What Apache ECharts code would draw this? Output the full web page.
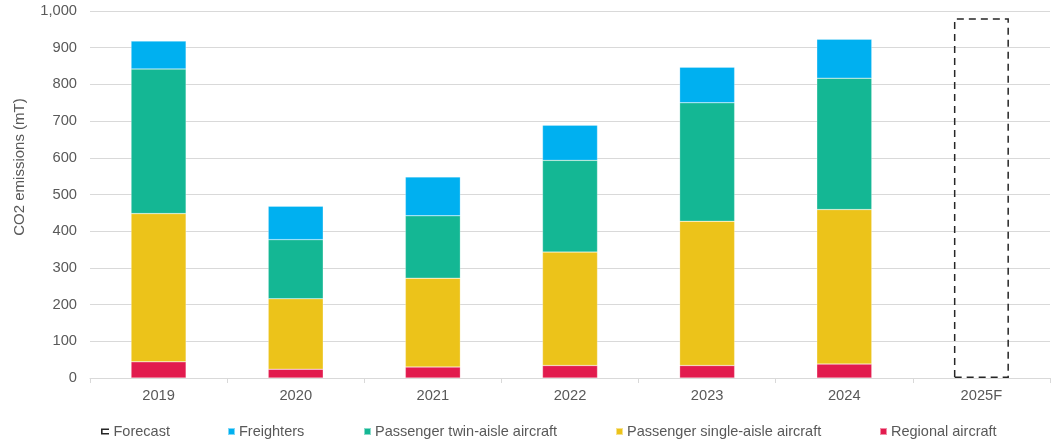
<!DOCTYPE html>
<html>
<head>
<meta charset="utf-8">
<script src="https://cdn.jsdelivr.net/npm/echarts@6/dist/echarts.min.js"></script>
<style>html,body{margin:0;padding:0;background:#fff;}#c{width:1052px;height:443px;}</style>
</head>
<body>
<div id="c"></div>
<script>
const categories = ['2019','2020','2021','2022','2023','2024','2025F'];
const regional = [44, 24, 30, 34, 34, 38, null];
const singleAisle = [404, 192, 242, 309, 393, 421, null];
const twinAisle = [394, 161, 170, 250, 323, 358, null];
const freighters = [76, 91, 106, 96, 97, 106, null];
const forecast = [null, null, null, null, null, null, 980];
const yTicks = [0,100,200,300,400,500,600,700,800,900,1000];

const fix = a => a.map(v => v == null ? '-' : v);
const txt = '#595959';
const font = 'Liberation Sans, Arial, sans-serif';

const chart = echarts.init(document.getElementById('c'));
function legendAt(left, name, extra) {
  return Object.assign({
    left: left, top: 424, orient: 'horizontal', padding: 0,
    icon: 'rect', itemWidth: 7, itemHeight: 7, itemGap: 0,
    textStyle: {color: txt, fontSize: 14.5, fontFamily: font, padding: [0,0,0,-1]},
    data: [name], selectedMode: false
  }, extra || {});
}
chart.setOption({
  animation: false,
  textStyle: {fontFamily: font},
  grid: {left: 90, right: 2, top: 11, bottom: 65},
  legend: [
    legendAt(101, {name: 'Forecast', icon: 'path://M0,0H8V1.6H1.6V4.4H8V6H0Z', itemStyle: {color: '#262626', borderWidth: 0}}, {itemWidth: 9, itemHeight: 6}),
    legendAt(227, 'Freighters'),
    legendAt(363, 'Passenger twin-aisle aircraft'),
    legendAt(615, 'Passenger single-aisle aircraft'),
    legendAt(879, 'Regional aircraft')
  ],
  graphic: [{
    type: 'text', x: 20, y: 167, rotation: Math.PI/2,
    style: {text: 'CO2 emissions (mT)', fill: txt, font: '15px ' + font, align: 'center', verticalAlign: 'middle'}
  }],
  xAxis: {
    type: 'category', data: categories,
    axisLine: {lineStyle: {color: '#d9d9d9', width: 1}},
    axisTick: {show: true, length: 5, lineStyle: {color: '#d9d9d9'}},
    axisLabel: {color: txt, fontSize: 14.7, margin: 10, fontFamily: font}
  },
  yAxis: {
    type: 'value', min: yTicks[0], max: yTicks[yTicks.length-1], interval: 100,
    axisLine: {show: false}, axisTick: {show: false},
    splitLine: {lineStyle: {color: '#d9d9d9', width: 1}},
    axisLabel: {color: txt, fontSize: 14.7, margin: 13, fontFamily: font,
      formatter: v => v.toLocaleString('en-US')}
  },
  series: [
    {name: 'Regional aircraft', type: 'bar', stack: 't', barWidth: 55, data: fix(regional),
     itemStyle: {color: '#E21B4E', borderColor: 'rgba(255,255,255,0.5)', borderWidth: 0.5}},
    {name: 'Passenger single-aisle aircraft', type: 'bar', stack: 't', data: fix(singleAisle),
     itemStyle: {color: '#ECC31A', borderColor: 'rgba(255,255,255,0.5)', borderWidth: 0.5}},
    {name: 'Passenger twin-aisle aircraft', type: 'bar', stack: 't', data: fix(twinAisle),
     itemStyle: {color: '#14B794', borderColor: 'rgba(255,255,255,0.5)', borderWidth: 0.5}},
    {name: 'Freighters', type: 'bar', stack: 't', data: fix(freighters),
     itemStyle: {color: '#00B0F0', borderColor: 'rgba(255,255,255,0.5)', borderWidth: 0.5}},
    {name: 'Forecast', type: 'bar', stack: 't', data: fix(forecast),
     itemStyle: {color: 'rgba(0,0,0,0)', borderColor: '#262626', borderWidth: 1.5, borderType: [7,5]}}
  ]
});
</script>
</body>
</html>
